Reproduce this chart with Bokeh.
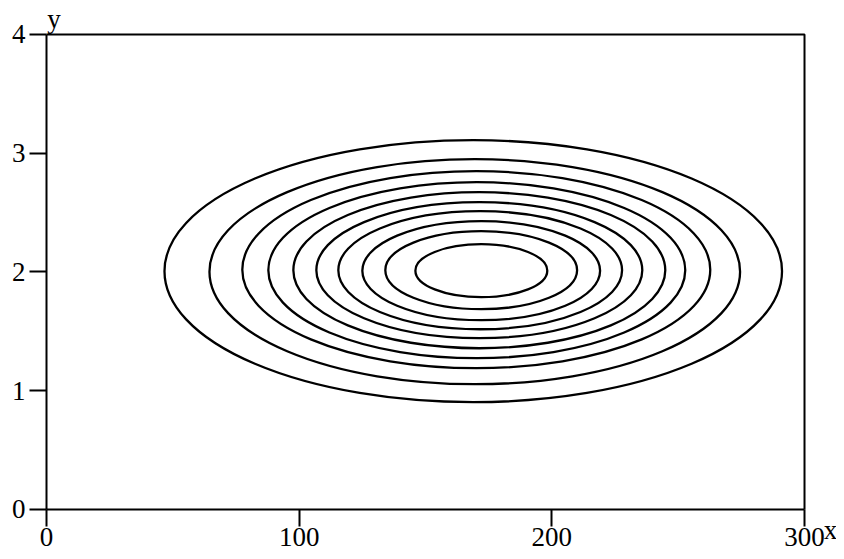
from bokeh.plotting import figure
from bokeh.models import Range1d, FixedTicker, ColumnDataSource, Label
from bokeh.embed import file_html
from bokeh.resources import INLINE

# Contour rings (innermost to outermost), data units
ring_left = [146.0, 134.1, 125.0, 115.5, 106.8, 97.7, 87.8, 77.5, 64.5, 46.7]
ring_right = [198.2, 210.0, 219.1, 227.8, 235.8, 244.9, 252.8, 262.7, 274.5, 291.1]
ring_bottom = [1.788, 1.687, 1.594, 1.518, 1.443, 1.358, 1.274, 1.190, 1.055, 0.904]
ring_top = [2.234, 2.344, 2.428, 2.512, 2.588, 2.672, 2.756, 2.849, 2.950, 3.110]

x_ticks = [0, 100, 200, 300]
y_ticks = [0, 1, 2, 3, 4]

cx = [(a + b) / 2 for a, b in zip(ring_left, ring_right)]
cy = [(a + b) / 2 for a, b in zip(ring_bottom, ring_top)]
w = [b - a for a, b in zip(ring_left, ring_right)]
h = [b - a for a, b in zip(ring_bottom, ring_top)]
src = ColumnDataSource(dict(x=cx, y=cy, w=w, h=h))

FONT = "Liberation Serif"

# The frame fills the whole canvas; the axes are pinned at x=0 / y=0 so that
# the axis names can sit beside them without being clipped.
p = figure(width=836, height=551, output_backend="svg", toolbar_location=None,
           x_range=Range1d(-18.2, 312.66), y_range=Range1d(-0.3537, 4.2863),
           min_border=0)
p.background_fill_color = "white"
p.border_fill_color = "white"
p.grid.visible = False
p.outline_line_color = None

# top and right edges of the plot box
p.line(x=[x_ticks[0], x_ticks[-1], x_ticks[-1]], y=[y_ticks[-1], y_ticks[-1], y_ticks[0]],
       line_color="black", line_width=2)

p.ellipse(x="x", y="y", width="w", height="h", source=src,
          fill_color=None, line_color="black", line_width=2.3)

for ax, ticks in ((p.xaxis, x_ticks), (p.yaxis, y_ticks)):
    ax.ticker = FixedTicker(ticks=ticks)
    ax.bounds = (ticks[0], ticks[-1])
    ax.fixed_location = 0
    ax.axis_line_width = 2
    ax.axis_line_color = "black"
    ax.major_tick_line_width = 2
    ax.major_tick_line_color = "black"
    ax.major_tick_out = 17
    ax.major_tick_in = 0
    ax.minor_tick_line_color = None
    ax.major_label_text_font = FONT
    ax.major_label_text_font_size = "27px"
    ax.major_label_text_color = "black"
    ax.major_label_standoff = 4
p.xaxis.major_label_standoff = 2

p.add_layout(Label(x=307.6, y=-0.175, text="x", text_font=FONT, text_font_size="27px",
                   text_align="left", text_baseline="alphabetic", text_color="black"))
p.add_layout(Label(x=0.28, y=4.129, text="y", text_font=FONT, text_font_size="27px",
                   text_align="left", text_baseline="alphabetic", text_color="black"))

open("out.html", "w").write(file_html(p, INLINE))
